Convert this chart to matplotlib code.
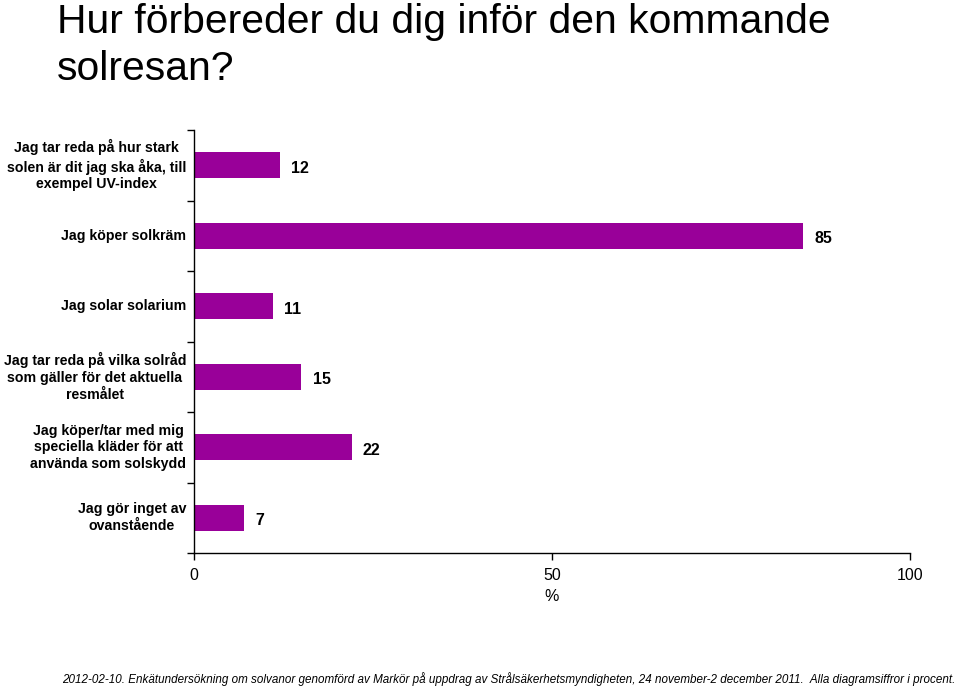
import matplotlib.pyplot as plt
import numpy as np

categories = [
    "Jag tar reda på hur stark\nsolen är dit jag ska åka, till\nexempel UV-index",
    "Jag köper solkräm",
    "Jag solar solarium",
    "Jag tar reda på vilka solråd\nsom gäller för det aktuella\nresmålet",
    "Jag köper/tar med mig\nspeciella kläder för att\nanvända som solskydd",
    "Jag gör inget av\novanstående",
]
values = [12, 85, 11, 15, 22, 7]
xticks = [0, 50, 100]
title_lines = ["Hur förbereder du dig inför den kommande", "solresan?"]

plt.rcParams['font.family'] = ['Liberation Sans', 'DejaVu Sans']

fig = plt.figure(figsize=(9.6, 6.88), dpi=100)
ax = fig.add_axes([194 / 960, 135 / 688, 716 / 960, 423 / 688])

n = len(categories)
ypos = np.arange(n)
ax.barh(ypos, values, height=0.37, color='#990099')
ax.set_ylim(n - 0.5, -0.5)
ax.set_xlim(0, 100)

for y, v in zip(ypos, values):
    ax.text(v + 1.6, y + 0.04, str(v), va='center', ha='left',
            fontsize=11.5, fontweight='bold')

for y, lab in zip(ypos, categories):
    ax.text(-1.1, y, lab, va='center', ha='right', multialignment='center',
            fontsize=10.2, fontweight='bold', linespacing=1.25)

ax.set_yticks(np.arange(-0.5, n, 1))
ax.set_yticklabels([])
ax.set_xticks(xticks)
ax.set_xticklabels([str(t) for t in xticks], fontsize=11.5)
ax.tick_params(axis='x', length=5, pad=6, width=1)
ax.tick_params(axis='y', length=5, width=1)
ax.set_xlabel('%', fontsize=11.5, labelpad=4)

for s in ['top', 'right']:
    ax.spines[s].set_visible(False)
for s in ['left', 'bottom']:
    ax.spines[s].set_linewidth(1)

# title, one line at a time to match the line spacing
for i, line in enumerate(title_lines):
    fig.text(57 / 960, 1 - (33 + 47 * i) / 688, line,
             fontsize=29.4, ha='left', va='baseline')

fig.text(0.995, 1 - 686 / 688,
         "2012-02-10. Enkätundersökning om solvanor genomförd av Markör på uppdrag av "
         "Strålsäkerhetsmyndigheten, 24 november-2 december 2011.  Alla diagramsiffror i procent.",
         fontsize=8.4, ha='right', va='bottom', style='italic')

fig.savefig('out.png', dpi=100)
